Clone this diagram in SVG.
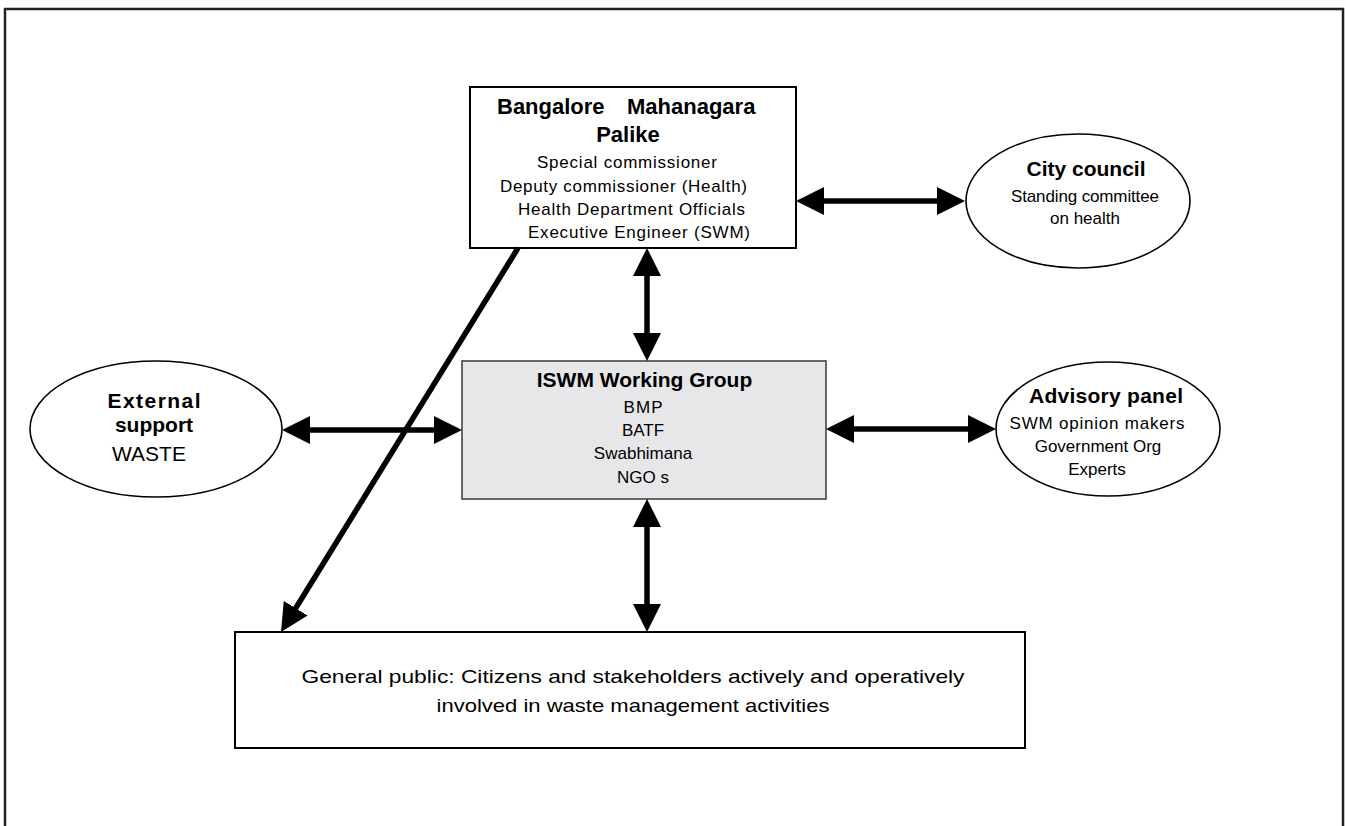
<svg xmlns="http://www.w3.org/2000/svg" width="1346" height="826" viewBox="0 0 1346 826">
<style>
text{font-family:"Liberation Sans",Arial,sans-serif;fill:#000}
.t{font-weight:bold;font-size:21px}
.s{font-size:17px}
.box{fill:#fff;stroke:#000;stroke-width:2}
.ell{fill:#fff;stroke:#000;stroke-width:1.6}
.con{fill:none;stroke:#000;stroke-width:5.5}
</style>
<defs>
<marker id="ah" viewBox="0 0 28 28" markerWidth="28" markerHeight="28" refX="8" refY="14" markerUnits="userSpaceOnUse" orient="auto-start-reverse">
<path d="M0,0 L28,14 L0,28 z" fill="#000"/>
</marker>
</defs>
<rect x="5" y="9" width="1338" height="840" fill="#fff" stroke="#222" stroke-width="2.5"/>

<g id="bmp">
<rect class="box" x="470" y="87" width="326" height="161"/>
<text class="t" y="114" style="font-size:22px"><tspan x="497">Bangalore</tspan><tspan x="627">Mahanagara</tspan></text>
<text class="t" x="628" y="142" text-anchor="middle" style="font-size:22px">Palike</text>
<text class="s" x="627" y="168" text-anchor="middle" textLength="180" lengthAdjust="spacing">Special commissioner</text>
<text class="s" x="623.5" y="191.5" text-anchor="middle" textLength="247" lengthAdjust="spacing">Deputy commissioner (Health)</text>
<text class="s" x="631.5" y="215" text-anchor="middle" textLength="227" lengthAdjust="spacing">Health Department Officials</text>
<text class="s" x="639" y="238" text-anchor="middle" textLength="222" lengthAdjust="spacing">Executive Engineer (SWM)</text>
</g>

<g id="city-council">
<ellipse class="ell" cx="1078" cy="201" rx="112" ry="67"/>
<text class="t" x="1086" y="176" text-anchor="middle">City council</text>
<text class="s" x="1085" y="202" text-anchor="middle" textLength="148" lengthAdjust="spacing">Standing committee</text>
<text class="s" x="1085" y="224" text-anchor="middle">on health</text>
</g>

<g id="iswm">
<rect x="462" y="361" width="364" height="138" fill="#e7e7e9" stroke="#444" stroke-width="1.6"/>
<text class="t" x="644.5" y="387" text-anchor="middle">ISWM Working Group</text>
<text class="s" x="643" y="413" text-anchor="middle" textLength="39" lengthAdjust="spacing">BMP</text>
<text class="s" x="643" y="436" text-anchor="middle">BATF</text>
<text class="s" x="643" y="459" text-anchor="middle">Swabhimana</text>
<text class="s" x="643" y="483" text-anchor="middle">NGO s</text>
</g>

<g id="external-support">
<ellipse class="ell" cx="156" cy="429" rx="126" ry="68"/>
<text class="t" x="154" y="408" text-anchor="middle" textLength="93" lengthAdjust="spacing">External</text>
<text class="t" x="154" y="432" text-anchor="middle">support</text>
<text x="112" y="461" style="font-size:21px">WASTE</text>
</g>

<g id="advisory-panel">
<ellipse class="ell" cx="1108" cy="429" rx="112" ry="67"/>
<text class="t" x="1106" y="403" text-anchor="middle" textLength="154" lengthAdjust="spacing">Advisory panel</text>
<text class="s" x="1097" y="429" text-anchor="middle" textLength="175" lengthAdjust="spacing">SWM opinion makers</text>
<text class="s" x="1098" y="452" text-anchor="middle">Government Org</text>
<text class="s" x="1097" y="475" text-anchor="middle">Experts</text>
</g>

<g id="general-public">
<rect class="box" x="235" y="632" width="790" height="116"/>
<text x="633" y="683" text-anchor="middle" style="font-size:19px" textLength="663" lengthAdjust="spacingAndGlyphs">General public: Citizens and stakeholders actively and operatively</text>
<text x="633" y="712" text-anchor="middle" style="font-size:19px" textLength="393" lengthAdjust="spacingAndGlyphs">involved in waste management activities</text>
</g>

<g id="connectors">
<line class="con" x1="816" y1="201" x2="945" y2="201" marker-start="url(#ah)" marker-end="url(#ah)"/>
<line class="con" x1="647" y1="268" x2="647" y2="341" marker-start="url(#ah)" marker-end="url(#ah)"/>
<line class="con" x1="302" y1="430" x2="442" y2="430" marker-start="url(#ah)" marker-end="url(#ah)"/>
<line class="con" x1="846" y1="429" x2="976" y2="429" marker-start="url(#ah)" marker-end="url(#ah)"/>
<line class="con" x1="647" y1="519" x2="647" y2="612" marker-start="url(#ah)" marker-end="url(#ah)"/>
<line class="con" x1="518" y1="248" x2="291.5" y2="615" marker-end="url(#ah)"/>
</g>
</svg>
